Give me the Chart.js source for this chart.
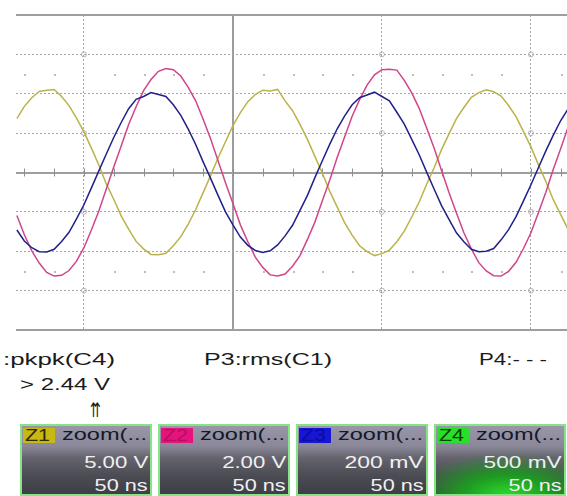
<!DOCTYPE html>
<html>
<head>
<meta charset="utf-8">
<title>Zoom traces</title>
<script src="https://cdn.jsdelivr.net/npm/chart.js@4.4.1/dist/chart.umd.min.js"></script>
<style>
  html, body { margin: 0; padding: 0; background: #fff; }
  body { position: relative; width: 567px; height: 496px; overflow: hidden; font-family: "Liberation Sans", Arial, sans-serif; }
  #scope { position: absolute; left: 0; top: 0; }
  .txt { position: absolute; white-space: nowrap; line-height: 1; transform-origin: 0 50%; }
  .param { font-size: 16px; color: #1b1b1b; }
  .zbox { position: absolute; top: 424px; width: 132px; height: 72px; box-sizing: border-box; border: 2px solid #86e386;
          background: linear-gradient(#9896a8 0%, #8a8898 30%, #66656f 46%, #4c4c54 72%, #3e3e46 100%); }
  .zbox.green { background: radial-gradient(ellipse 75% 60% at 55% 100%, #2bd82b 0%, #1e9a22 45%, rgba(40,90,40,0) 100%),
                            linear-gradient(#9896a8 0%, #8a8898 30%, #66656f 46%, #4c4c54 72%, #3e3e46 100%); }
  .tag { position: absolute; left: 1px; top: 2px; width: 32px; height: 15px; }
  .tag .txt { left: 2px; top: 0; font-size: 16px; }
  .zname { left: 40px; top: 1px; font-size: 16px; color: #17172b; }
  .zval { right: 2px; font-size: 17px; color: #f0f0f0; transform-origin: 100% 50%; }
</style>
</head>
<body>
<canvas id="scope" width="567" height="340"></canvas>

<div class="txt param" style="left:3px; top:352px" data-w="112">:pkpk(C4)</div>
<div class="txt param" style="left:20px; top:377px" data-w="90">&gt; 2.44 V</div>
<div class="txt param" style="left:90px; top:400px; font-size:20px; font-family:'DejaVu Sans'" data-w="11">⇈</div>
<div class="txt param" style="left:204px; top:352px" data-w="128">P3:rms(C1)</div>
<div class="txt param" style="left:479px; top:352px" data-w="68">P4:- - -</div>

<div class="zbox" style="left:20px">
  <div class="tag" style="background:#c9b812"><div class="txt" style="color:#2a2a05" data-w="25">Z1</div></div>
  <div class="txt zname" data-w="85">zoom(...</div>
  <div class="txt zval" style="top:28px" data-w="64">5.00 V</div>
  <div class="txt zval" style="top:51px" data-w="53">50 ns</div>
</div>
<div class="zbox" style="left:158px">
  <div class="tag" style="background:#e6137f"><div class="txt" style="color:#b2105c" data-w="25">Z2</div></div>
  <div class="txt zname" data-w="85">zoom(...</div>
  <div class="txt zval" style="top:28px" data-w="64">2.00 V</div>
  <div class="txt zval" style="top:51px" data-w="53">50 ns</div>
</div>
<div class="zbox" style="left:296px">
  <div class="tag" style="background:#1616d6"><div class="txt" style="color:#0b0b9c" data-w="25">Z3</div></div>
  <div class="txt zname" data-w="85">zoom(...</div>
  <div class="txt zval" style="top:28px" data-w="79">200 mV</div>
  <div class="txt zval" style="top:51px" data-w="53">50 ns</div>
</div>
<div class="zbox green" style="left:434px">
  <div class="tag" style="background:#28e028"><div class="txt" style="color:#0d3d0d" data-w="25">Z4</div></div>
  <div class="txt zname" data-w="85">zoom(...</div>
  <div class="txt zval" style="top:28px" data-w="78">500 mV</div>
  <div class="txt zval" style="top:51px" data-w="53">50 ns</div>
</div>

<script>
// sample times (ns) and trace levels in divisions
const timeNs = [-72.5, -70, -67.5, -65, -62.5, -60, -57.5, -55, -52.5, -50, -47.5, -45, -42.5, -40, -37.5,
  -35, -32.5, -30, -27.5, -25, -22.5, -20, -17.5, -15, -12.5, -10, -7.5, -5, -2.5, 0, 2.5, 5, 7.5, 10, 12.5,
  15, 17.5, 20, 22.5, 25, 27.5, 30, 32.5, 35, 37.5, 40, 42.5, 45, 47.5, 50, 52.5, 55, 57.5, 60, 62.5, 65,
  67.5, 70, 72.5, 75, 77.5, 80, 82.5, 85, 87.5, 90, 92.5, 95, 97.5, 100, 102.5, 105, 107.5, 110, 112.5];

const z1Trace = [1.37, 1.68, 1.90, 2.06, 2.09, 2.11, 1.93, 1.70, 1.38, 1.03,
  0.62, 0.19, -0.29, -0.68, -1.10, -1.44, -1.75, -1.94, -2.08, -2.09,
  -2.05, -1.86, -1.63, -1.31, -0.94, -0.51, -0.08, 0.37, 0.78, 1.19,
  1.52, 1.80, 1.98, 2.09, 2.07, 2.11, 1.82, 1.57, 1.22, 0.84,
  0.41, -0.02, -0.48, -0.88, -1.28, -1.59, -1.86, -2.01, -2.11, -2.06,
  -1.97, -1.76, -1.49, -1.13, -0.75, -0.30, 0.12, 0.58, 0.98, 1.37,
  1.65, 1.91, 2.03, 2.10, 2.05, 1.94, 1.70, 1.42, 1.04, 0.65,
  0.20, -0.23, -0.69, -1.07, -1.45];

const z2Trace = [-1.09, -1.58, -1.99, -2.30, -2.54, -2.63, -2.61, -2.49, -2.25, -1.91,
  -1.46, -0.98, -0.42, 0.14, 0.67, 1.22, 1.67, 2.08, 2.36, 2.57,
  2.64, 2.61, 2.45, 2.16, 1.82, 1.35, 0.86, 0.30, -0.26, -0.79,
  -1.33, -1.76, -2.15, -2.41, -2.60, -2.63, -2.58, -2.38, -2.11, -1.70,
  -1.26, -0.72, -0.19, 0.39, 0.91, 1.43, 1.85, 2.22, 2.48, 2.61,
  2.62, 2.60, 2.34, 2.02, 1.63, 1.13, 0.62, 0.05, -0.51, -1.03,
  -1.53, -1.94, -2.29, -2.50, -2.62, -2.63, -2.51, -2.28, -1.93, -1.53,
  -1.02, -0.50, 0.08, 0.61, 1.16];

const z3Trace = [-1.46, -1.74, -1.91, -2.01, -2.02, -1.95, -1.75, -1.52, -1.18, -0.82,
  -0.39, 0.04, 0.47, 0.89, 1.27, 1.62, 1.86, 1.93, 2.03, 1.98,
  1.93, 1.72, 1.45, 1.10, 0.71, 0.27, -0.15, -0.58, -1.00, -1.33,
  -1.64, -1.85, -1.98, -2.03, -1.99, -1.84, -1.61, -1.34, -0.96, -0.58,
  -0.13, 0.30, 0.72, 1.11, 1.44, 1.72, 1.90, 1.97, 2.04, 1.93,
  1.82, 1.53, 1.23, 0.84, 0.45, 0.01, -0.42, -0.84, -1.19, -1.53,
  -1.76, -1.95, -2.01, -2.00, -1.93, -1.71, -1.45, -1.12, -0.72, -0.31,
  0.12, 0.55, 0.95, 1.32, 1.62];

const timeDivs = [-50, 0, 50, 100];
const minorStep = 10;

function toPoints(values) {
  return timeNs.map((t, i) => ({ x: t, y: values[i] }));
}

const isSolid = v => v === 0 || Math.abs(v) === 4;

// crosshair ticks, faint dots and rings on the graticule
const graticule = {
  id: 'graticule',
  beforeDatasetsDraw(chart) {
    const { ctx, scales: { x, y } } = chart;
    const y0 = y.getPixelForValue(0);
    ctx.save();
    ctx.strokeStyle = '#8e8e8e';
    ctx.lineWidth = 1;
    for (let t = -70; t <= 110; t += minorStep) {
      const px = Math.round(x.getPixelForValue(t)) + 0.5;
      ctx.beginPath();
      ctx.moveTo(px, y0 - 4);
      ctx.lineTo(px, y0 + 4);
      ctx.stroke();
    }
    ctx.fillStyle = '#bdbdbd';
    [2.5, -2.5].forEach(v => {
      const py = Math.round(y.getPixelForValue(v));
      for (let t = -70; t <= 110; t += minorStep) {
        if (t % 50 === 0) continue;
        ctx.fillRect(Math.round(x.getPixelForValue(t)), py, 2, 2);
      }
    });
    ctx.strokeStyle = '#b4b4b4';
    timeDivs.filter(t => t !== 0).forEach(t => [3, 1, -1, -3].forEach(v => {
      ctx.beginPath();
      ctx.arc(x.getPixelForValue(t), y.getPixelForValue(v), 2.5, 0, Math.PI * 2);
      ctx.stroke();
    }));
    ctx.restore();
  }
};

new Chart(document.getElementById('scope'), {
  type: 'line',
  data: {
    datasets: [
      { label: 'Z3', data: toPoints(z3Trace), borderColor: '#20208a' },
      { label: 'Z2', data: toPoints(z2Trace), borderColor: '#d0458a' },
      { label: 'Z1', data: toPoints(z1Trace), borderColor: '#bbb24a' }
    ]
  },
  options: {
    responsive: false,
    animation: false,
    layout: { padding: { left: 16, top: 15, right: 0, bottom: 10 } },
    elements: {
      point: { radius: 0 },
      line: { borderWidth: 1.5, tension: 0, fill: false }
    },
    plugins: { legend: { display: false }, tooltip: { enabled: false } },
    scales: {
      x: {
        type: 'linear', min: -72.8, max: 112.1,
        afterBuildTicks: s => { s.ticks = timeDivs.map(v => ({ value: v })); },
        ticks: { display: false },
        grid: {
          drawTicks: false,
          color: c => c.tick.value === 0 ? '#9c9c9c' : '#a4a4a4',
          lineWidth: c => c.tick.value === 0 ? 2 : 1
        },
        border: { display: false, dash: c => (c.tick && c.tick.value === 0) ? [] : [2, 2] }
      },
      y: {
        min: -4, max: 4,
        ticks: { display: false, stepSize: 1 },
        grid: {
          drawTicks: false,
          color: c => isSolid(c.tick.value) ? '#9e9e9e' : '#a4a4a4',
          lineWidth: c => isSolid(c.tick.value) ? 2 : 1
        },
        border: { display: false, dash: c => (c.tick && isSolid(c.tick.value)) ? [] : [2, 2] }
      }
    }
  },
  plugins: [graticule]
});

// the scope's readout font runs wide; stretch each label to its slot
document.querySelectorAll('[data-w]').forEach(el => {
  const w = el.getBoundingClientRect().width;
  el.style.transform = 'scaleX(' + (el.dataset.w / w).toFixed(3) + ')';
});
</script>
</body>
</html>
